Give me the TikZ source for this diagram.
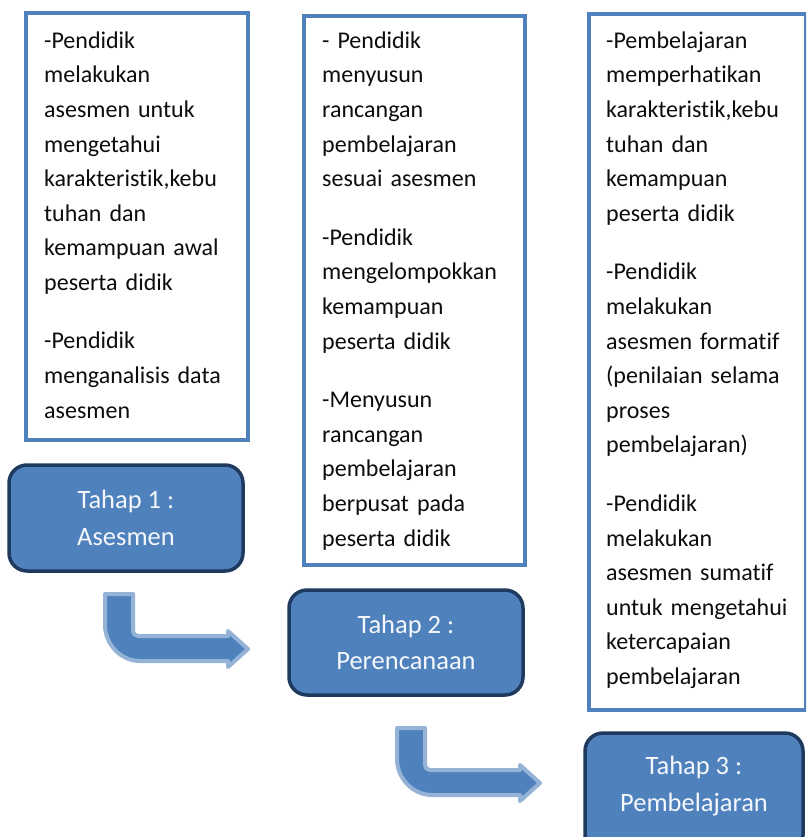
\documentclass[tikz,border=0pt]{standalone}
\usepackage{fontspec}
\setmainfont{Carlito}[Ligatures={NoCommon}]
\definecolor{accent}{HTML}{4F81BD}
\definecolor{navy}{HTML}{1F3A5F}
\definecolor{arrowedge}{HTML}{95B3D7}
\definecolor{bodyink}{HTML}{0D0D0D}
\definecolor{labelink}{HTML}{F4F7FB}

\begin{document}
\begin{tikzpicture}[x=1pt,y=-1pt,
  textframe/.style={draw=accent, line width=4pt, fill=white, inner sep=0pt, anchor=north west},
  bodytext/.style={anchor=north west, inner sep=0pt, text width=215pt, align=left,
    font=\fontsize{24}{34.6}\selectfont, text=bodyink},
  stagebox/.style={draw=navy, line width=3.5pt, fill=accent, rounded corners=18pt,
    inner sep=0pt},
  stagetext/.style={inner sep=0pt, text=labelink, align=center, font=\fontsize{26.5}{36.5}\selectfont},
  bentarrow/.style={fill=accent, draw=arrowedge, line width=4pt, line join=round}
]
\useasboundingbox (0,0) rectangle (806,837);
\clip (0,0) rectangle (806,837);

% text frames
\node[textframe, minimum width=222pt, minimum height=427pt] (frameA) at (24,11) {};
\node[textframe, minimum width=221pt, minimum height=549pt] (frameB) at (302,14) {};
\node[textframe, minimum width=217pt, minimum height=696pt] (frameC) at (587,12) {};

% frame contents
\node[bodytext] (textA) at (44,31.5) {-Pendidik\\ melakukan\\ asesmen untuk\\ mengetahui\\ karakteristik,kebu\\ tuhan dan\\ kemampuan awal\\ peserta didik\\[23.7pt]
-Pendidik\\ menganalisis data\\ asesmen};

\node[bodytext] (textB) at (322,31.5) {- Pendidik\\ menyusun\\ rancangan\\ pembelajaran\\ sesuai asesmen\\[24pt]
-Pendidik\\ mengelompokkan\\ kemampuan\\ peserta didik\\[24pt]
-Menyusun\\ rancangan\\ pembelajaran\\ berpusat pada\\ peserta didik};

\node[bodytext] (textC) at (606,31.5) {-Pembelajaran\\ memperhatikan\\ karakteristik,kebu\\ tuhan dan\\ kemampuan\\ peserta didik\\[24pt]
-Pendidik\\ melakukan\\ asesmen formatif\\ (penilaian selama\\ proses\\ pembelajaran)\\[24pt]
-Pendidik\\ melakukan\\ asesmen sumatif\\ untuk mengetahui\\ ketercapaian\\ pembelajaran};

% stage boxes
\node[stagebox, minimum width=234pt, minimum height=106pt] (stage1) at (126,518) {};
\node[stagetext] (label1) at (stage1) {Tahap 1 :\\ Asesmen};
\node[stagebox, minimum width=234pt, minimum height=105pt] (stage2) at (406,642.5) {};
\node[stagetext] (label2) at (stage2) {Tahap 2 :\\ Perencanaan};
\node[stagebox, minimum width=218pt, minimum height=120pt] (stage3) at (694,793) {};
\node[stagetext] (label3) at (694,786) {Tahap 3 :\\ Pembelajaran};

% bent block arrows between the stages
\foreach \dx/\dy in {0/0, 292/134} {
  \begin{scope}[shift={(\dx,\dy)}]
    \filldraw[bentarrow] (105,594) -- (105,625)
      .. controls (105,644.3) and (120.7,661) .. (140,661)
      -- (228,661) -- (228,667) -- (248,649) -- (228,631) -- (228,636)
      -- (138,636) .. controls (135.2,636) and (133,633.8) .. (133,631)
      -- (133,594) -- cycle;
  \end{scope}
}
\end{tikzpicture}
\end{document}
